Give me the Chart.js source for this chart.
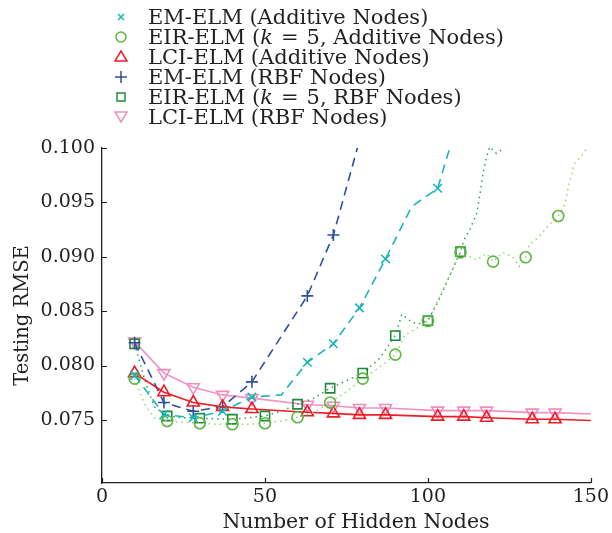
<!DOCTYPE html>
<html>
<head>
<meta charset="utf-8">
<script src="https://cdn.jsdelivr.net/npm/chart.js@4.4.1/dist/chart.umd.min.js"></script>
<style>
  html, body { margin: 0; padding: 0; background: #fff; }
  #wrap { position: relative; width: 612px; height: 533px; }
  #legend {
    position: absolute; left: 110px; top: 7px;
    font-family: "DejaVu Serif", serif; font-size: 21px; color: #231f20;
  }
  .row { display: flex; align-items: center; height: 20px; white-space: nowrap; }
  .row svg { width: 22px; height: 20px; margin-right: 16px; flex: none; }
  .eq { margin: 0 8px; }
  #xTitle {
    position: absolute; left: 156px; width: 400px; top: 508px; text-align: center;
    font-family: "DejaVu Serif", serif; font-size: 20.5px; color: #231f20; line-height: 26px;
  }
</style>
</head>
<body>
<div id="wrap">
  <canvas id="chart" width="612" height="533"></canvas>
  <div id="legend">
    <div class="row"><svg viewBox="0 0 22 20"><path d="M8 7 L14 13 M14 7 L8 13" stroke="#19b5b8" stroke-width="1.5" fill="none"/></svg>EM-ELM (Additive Nodes)</div>
    <div class="row"><svg viewBox="0 0 22 20"><circle cx="11" cy="10" r="5" stroke="#5cb83c" stroke-width="1.5" fill="none"/></svg>EIR-ELM (<i>k</i><span class="eq">=</span>5, Additive Nodes)</div>
    <div class="row"><svg viewBox="0 0 22 20"><path d="M11 4 L17 14 L5 14 Z" stroke="#ee1c25" stroke-width="1.5" fill="none"/></svg>LCI-ELM (Additive Nodes)</div>
    <div class="row"><svg viewBox="0 0 22 20"><path d="M11 4 L11 16 M5 10 L17 10" stroke="#2e4fa0" stroke-width="1.5" fill="none"/></svg>EM-ELM (RBF Nodes)</div>
    <div class="row"><svg viewBox="0 0 22 20"><rect x="7" y="6" width="8" height="8" stroke="#1e8a3c" stroke-width="1.5" fill="none"/></svg>EIR-ELM (<i>k</i><span class="eq">=</span>5, RBF Nodes)</div>
    <div class="row"><svg viewBox="0 0 22 20"><path d="M5 5 L17 5 L11 15 Z" stroke="#f08cbf" stroke-width="1.5" fill="none"/></svg>LCI-ELM (RBF Nodes)</div>
  </div>
  <div id="xTitle">Number of Hidden Nodes</div>
</div>
<script>
// testing RMSE vs. number of hidden nodes

const xTicks = [0, 50, 100, 150];
const yTicks = [0.075, 0.080, 0.085, 0.090, 0.095, 0.100];

// EM-ELM, additive nodes
const emAddNodes = [10, 19, 28, 37, 46, 55, 63, 71, 79, 87, 95, 103, 107];
const emAddRmse = [0.0791, 0.0755, 0.0752, 0.0758, 0.0771, 0.0773, 0.0803, 0.0820, 0.0853, 0.0898, 0.0946, 0.0963, 0.1003];
const emAddMarked = [10, 19, 28, 37, 46, 63, 71, 79, 87, 103];

// EM-ELM, RBF nodes
const emRbfNodes = [10, 19, 28, 37, 46, 63, 71, 79];
const emRbfRmse = [0.0821, 0.0766, 0.0758, 0.0762, 0.0785, 0.0864, 0.0920, 0.1007];

// LCI-ELM, both node types
const lciNodes = [10, 19, 28, 37, 46, 63, 71, 79, 87, 103, 111, 118, 132, 139, 150];
const lciAddRmse = [0.0793, 0.07755, 0.0766, 0.0762, 0.0760, 0.0757, 0.0756, 0.07546, 0.07546, 0.0753, 0.0753, 0.0752, 0.07506, 0.07506, 0.07494];
const lciRbfRmse = [0.0822, 0.0793, 0.0780, 0.0773, 0.0770, 0.0764, 0.0763, 0.0761, 0.0761, 0.07585, 0.07585, 0.07585, 0.07567, 0.07567, 0.07555];
const lciMarked = [10, 19, 28, 37, 46, 63, 71, 79, 87, 103, 111, 118, 132, 139];

// EIR-ELM (k = 5), additive nodes
const eirAddNodes = [10, 13, 16, 20, 25, 30, 35, 40, 45, 50, 55, 60, 65, 70, 75, 80, 85, 90, 93, 97, 100, 105, 110, 113, 115, 118, 120, 123, 126, 128, 130, 131, 134, 137, 140, 142, 143, 144, 145, 147, 149];
const eirAddRmse = [0.0788, 0.0765, 0.0752, 0.0749, 0.0748, 0.0747, 0.0746, 0.0746, 0.0746, 0.0747, 0.0749, 0.07525, 0.0757, 0.0766, 0.0776, 0.0788, 0.0798, 0.0810, 0.0828, 0.0835, 0.0841, 0.0872, 0.0904, 0.0900, 0.0897, 0.0903, 0.08955, 0.0904, 0.0900, 0.0891, 0.08995, 0.0911, 0.0918, 0.0929, 0.09375, 0.0948, 0.0963, 0.0975, 0.0986, 0.0992, 0.1001];

// EIR-ELM (k = 5), RBF nodes
const eirRbfNodes = [10, 13, 16, 20, 25, 30, 35, 40, 45, 50, 55, 60, 65, 70, 75, 80, 85, 90, 92, 95, 97, 100, 103, 106, 110, 111, 113, 115, 116, 117, 118, 119, 121, 123];
const eirRbfRmse = [0.0820, 0.0788, 0.0762, 0.07536, 0.0752, 0.07516, 0.0751, 0.07506, 0.0752, 0.07536, 0.0758, 0.07644, 0.0770, 0.07791, 0.0786, 0.0793, 0.0806, 0.08275, 0.0847, 0.0840, 0.0838, 0.08413, 0.0858, 0.0878, 0.09047, 0.0915, 0.0926, 0.0940, 0.0958, 0.0978, 0.0992, 0.1001, 0.0995, 0.0999];
const eirMarked = [10, 20, 30, 40, 50, 60, 70, 80, 90, 100, 110, 120, 130, 140];

const INK = "#231f20";
const FONT = "'DejaVu Serif', serif";

const pts = (nodes, vals) => nodes.map((n, i) => ({ x: n, y: vals[i] }));
const radii = (nodes, marked, r) => nodes.map((n) => (marked.includes(n) ? r : 0));

function series(label, nodes, vals, marked, o) {
  return {
    label,
    data: pts(nodes, vals),
    borderColor: o.line,
    borderWidth: o.width || 1.6,
    borderDash: o.dash || [],
    tension: 0,
    fill: false,
    pointStyle: o.style,
    pointRotation: o.rot || 0,
    pointRadius: radii(nodes, marked, o.r),
    pointBorderColor: o.mark,
    pointBackgroundColor: "rgba(0,0,0,0)",
    pointBorderWidth: 1.6,
  };
}

// short tick marks pointing into the plot, like the usual matlab axes
const innerTicks = {
  id: "innerTicks",
  afterDraw(c) {
    const { ctx, chartArea } = c;
    const { x, y } = c.scales;
    ctx.save();
    ctx.strokeStyle = INK;
    ctx.lineWidth = 1.2;
    ctx.beginPath();
    y.ticks.forEach((t) => {
      const py = Math.round(y.getPixelForValue(t.value)) + 0.5;
      ctx.moveTo(chartArea.left, py);
      ctx.lineTo(chartArea.left + 5, py);
    });
    x.ticks.forEach((t) => {
      const px = Math.round(x.getPixelForValue(t.value)) + 0.5;
      ctx.moveTo(px, chartArea.bottom);
      ctx.lineTo(px, chartArea.bottom - 5);
    });
    ctx.stroke();
    ctx.restore();
  },
};

const ctx = document.getElementById("chart");

new Chart(ctx, {
  type: "line",
  data: {
    datasets: [
      series("EM-ELM (Additive Nodes)", emAddNodes, emAddRmse, emAddMarked,
        { line: "#19b5b8", mark: "#19b5b8", dash: [9, 6], style: "crossRot", r: 6 }),
      series("EIR-ELM (k=5, Additive Nodes)", eirAddNodes, eirAddRmse, eirMarked,
        { line: "#96d47e", mark: "#5cb83c", dash: [1.5, 4], width: 1.5, style: "circle", r: 5.5 }),
      series("LCI-ELM (Additive Nodes)", lciNodes, lciAddRmse, lciMarked,
        { line: "#ee1c25", mark: "#ee1c25", style: "triangle", r: 7 }),
      series("EM-ELM (RBF Nodes)", emRbfNodes, emRbfRmse, emRbfNodes,
        { line: "#2e4fa0", mark: "#2e4fa0", dash: [9, 6], style: "cross", r: 6 }),
      series("EIR-ELM (k=5, RBF Nodes)", eirRbfNodes, eirRbfRmse, eirMarked,
        { line: "#3c9a50", mark: "#1e8a3c", dash: [1.5, 4], width: 1.5, style: "rect", r: 6.5 }),
      series("LCI-ELM (RBF Nodes)", lciNodes, lciRbfRmse, lciMarked,
        { line: "#f291c2", mark: "#f08cbf", style: "triangle", rot: 180, r: 7 }),
    ],
  },
  options: {
    responsive: false,
    animation: false,
    layout: { padding: { left: 0, right: 18, top: 148, bottom: 0 } },
    plugins: { legend: { display: false }, tooltip: { enabled: false } },
    scales: {
      x: {
        type: "linear",
        min: 0,
        max: 150,
        afterBuildTicks: (scale) => {
          scale.ticks = xTicks.map((v) => ({ value: v }));
        },
        afterFit: (scale) => {
          scale.height = 50;
        },
        ticks: { color: INK, font: { family: FONT, size: 19 }, padding: 3, maxRotation: 0 },
        grid: { display: true, drawOnChartArea: false, drawTicks: false },
        border: { display: true, color: INK, width: 1.3 },
      },
      y: {
        min: 0.0692,
        max: 0.1,
        afterBuildTicks: (scale) => {
          scale.ticks = yTicks.map((v) => ({ value: v }));
        },
        afterFit: (scale) => {
          scale.width = 102;
        },
        ticks: {
          color: INK,
          font: { family: FONT, size: 19 },
          padding: 7,
          callback: (v) => Number(v).toFixed(3),
        },
        grid: { display: true, drawOnChartArea: false, drawTicks: false },
        border: { display: true, color: INK, width: 1.3 },
        title: {
          display: true,
          text: "Testing RMSE",
          color: INK,
          font: { family: FONT, size: 19.5 },
          padding: { top: 11, bottom: 11 },
        },
      },
    },
  },
  plugins: [innerTicks],
});
</script>
</body>
</html>
